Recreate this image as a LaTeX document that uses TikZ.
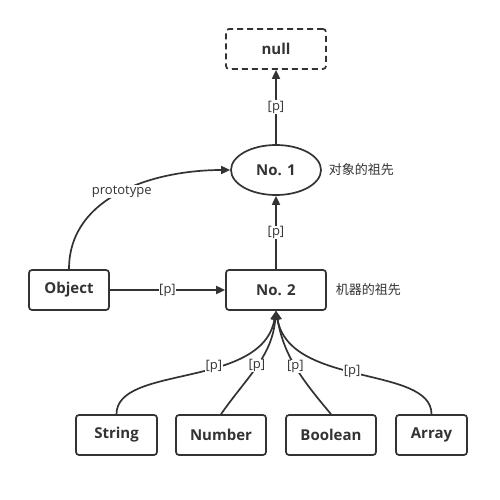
\documentclass[tikz,border=0pt]{standalone}
\usepackage{fontspec}
\setmainfont{Open Sans}
\newfontfamily\cjk{Noto Sans CJK SC}
\usetikzlibrary{arrows.meta,shapes.geometric,positioning}
\definecolor{ink}{HTML}{333333}

\begin{document}
\begin{tikzpicture}[x=1pt, y=-1pt, ink, line width=1.7pt,
	font=\bfseries\fontsize{15}{18}\selectfont,
	box/.style={draw, rounded corners=3pt, minimum height=40pt, fill=white},
	dbox/.style={box, dash pattern=on 6pt off 4pt},
	oval/.style={draw, ellipse, minimum width=90pt, minimum height=50pt, inner sep=0pt},
	note/.style={font=\cjk\fontsize{13}{15}\selectfont, anchor=west, inner sep=0pt},
	lbl/.style={font=\mdseries\fontsize{13}{15}\selectfont, fill=white, inner sep=0.5pt},
	arr/.style={-{Triangle[length=9pt,width=8pt]}}]
\useasboundingbox (0,0) rectangle (500,500);
\node[dbox, minimum width=100pt] (null) at (276,49) {null};
\node[oval] (no1) at (276,170) {No. 1};
\node[note] (t1) at (328,170) {对象的祖先};
\node[box, minimum width=80pt] (obj) at (69,290) {Object};
\node[box, minimum width=100pt] (no2) at (276,290) {No. 2};
\node[note] (t2) at (335,290) {机器的祖先};
\node[box, minimum width=81pt] (str) at (116.5,435) {String};
\node[box, minimum width=90pt] (num) at (221,435) {Number};
\node[box, minimum width=90pt] (bool) at (331,435) {Boolean};
\node[box, minimum width=71pt] (arr) at (431.5,435) {Array};
\draw[arr] (no1) -- node[lbl] {[p]} (null);
\draw[arr] (no2) -- node[lbl] {[p]} (no1);
\draw[arr] (obj) -- node[lbl] {[p]} (no2);
\draw[arr] (obj.north) to[out=90, in=180] node[lbl, pos=0.5] {prototype} (no1.west);
\draw[arr] (str.north) to[out=90, in=-100, out looseness=0.67, in looseness=1.07] node[lbl, pos=0.6] {[p]} (no2.south);
\draw[arr] (num.north) to[out=55, in=-95] node[lbl, pos=0.5] {[p]} (no2.south);
\draw[arr] (bool.north) to[out=130, in=-80] node[lbl, pos=0.5] {[p]} (no2.south);
\draw[arr] (arr.north) to[out=90, in=-80, out looseness=0.67, in looseness=1.07] node[lbl, pos=0.53] {[p]} (no2.south);
\end{tikzpicture}
\end{document}
